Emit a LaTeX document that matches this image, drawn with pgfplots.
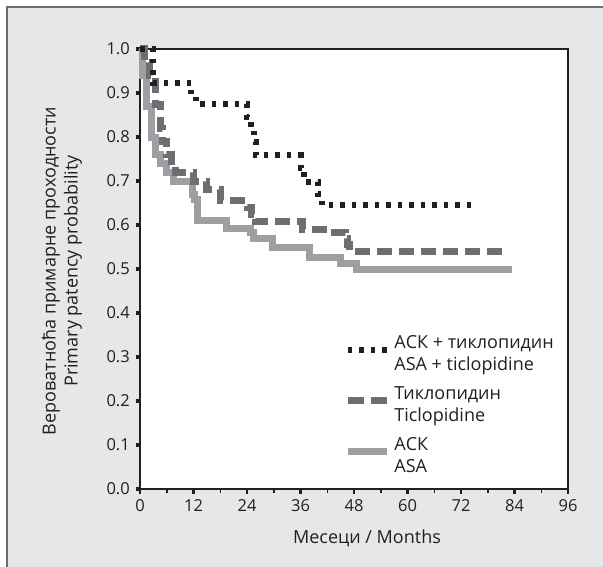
\documentclass[border=0pt]{standalone}
\usepackage{fontspec}
\setmainfont{Open Sans}
\usepackage{pgfplots}
\pgfplotsset{compat=1.18}
\definecolor{bg}{HTML}{E6E7E8}
\definecolor{frm}{HTML}{6D6E71}
\definecolor{cblack}{HTML}{231F20}
\definecolor{cdark}{HTML}{6D6E71}
\definecolor{clight}{HTML}{9D9FA2}
\newcommand{\fs}{\fontsize{16.5bp}{19bp}\selectfont}
\newcommand{\ft}{\fontsize{18bp}{22bp}\selectfont}
\begin{document}
\fs
\begin{tikzpicture}[x=1bp,y=1bp]
\useasboundingbox (0,0) rectangle (603,-567);
\fill[bg] (7,-7) rectangle (603,-567);
\draw[frm, line width=2bp] (7,-567) -- (7,-7) -- (603,-7);
\fill[white] (140,-489) rectangle (568,-49);
\begin{axis}[
  at={(140bp,-489bp)}, anchor=south west,
  scale only axis, width=428bp, height=440bp,
  xmin=0, xmax=96, ymin=0, ymax=1,
  clip=false,
  axis line style={draw=cblack, line width=1.6bp},
  xtick={0,12,...,96}, minor xtick={6,18,...,90},
  ytick={0,0.1,...,1.0},
  tick pos=left, tick align=outside,
  major tick length=4.5bp, minor tick length=4bp,
  xtick style={line width=2.5bp, draw=cblack},
  minor x tick style={line width=1.5bp},
  ytick style={line width=4.5bp, draw=cblack},
  /pgf/number format/assume math mode=true,
  yticklabel style={/pgf/number format/.cd, fixed, fixed zerofill, precision=1},
  ticklabel style={font=\fs, text=cblack},
]
\addplot[const plot, draw=clight, line width=7bp] coordinates {
(0,1.0) (0.6,0.94) (1.5,0.87) (2.5,0.80) (3.4,0.76) (4.5,0.74) (6,0.72) (7.5,0.70)
(11.7,0.67) (12.3,0.657) (12.8,0.611) (19.5,0.593) (24.7,0.582) (25.4,0.57)
(29.8,0.55) (38,0.527) (45,0.513) (48.5,0.498) (83.5,0.498)};
\addplot[const plot, draw=cdark, line width=7bp, dash pattern=on 15bp off 7bp] coordinates {
(0,1.0) (1,0.97) (2.2,0.94) (3.4,0.875) (4.5,0.82) (5,0.79) (6,0.76) (7,0.735) (8,0.72)
(12,0.70) (15,0.68) (18,0.655) (24,0.64) (25,0.625) (26,0.607) (36.5,0.59) (42,0.584)
(46,0.57) (46.5,0.555) (47,0.539) (81.5,0.539)};
\addplot[const plot, draw=cblack, line width=6bp, dash pattern=on 4.5bp off 7bp] coordinates {
(0,1.0) (3,0.923) (11.5,0.895) (12.5,0.875) (24,0.845) (24.8,0.816) (25.5,0.789)
(26,0.759) (36,0.73) (36.8,0.698) (40,0.67) (40.8,0.645) (74.5,0.645)};
\end{axis}
\begin{axis}[
  at={(140bp,-489bp)}, anchor=south west,
  scale only axis, width=428bp, height=440bp,
  xmin=0, xmax=96, ymin=0, ymax=1, hide axis,
  legend style={at={(0.477,0.349)}, anchor=north west, draw=none, fill=none,
    inner sep=0pt, row sep=4bp, font=\ft,
    /tikz/every odd column/.append style={column sep=4bp},
    nodes={inner sep=0pt, text=cblack, text height=13bp, text depth=5bp}},
  legend image code/.code={\draw[#1] (0bp,-5bp) -- (39bp,-5bp);},
  legend cell align=left,
]
\addlegendimage{draw=cblack, line width=6bp, dash pattern=on 4.5bp off 7bp}
\addlegendentry{АСК + тиклопидин}
\addlegendimage{empty legend}
\addlegendentry[text depth=12bp]{ASA + ticlopidine}
\addlegendimage{draw=cdark, line width=7bp, dash pattern=on 16bp off 7bp}
\addlegendentry{Тиклопидин}
\addlegendimage{empty legend}
\addlegendentry[text depth=12bp]{Ticlopidine}
\addlegendimage{draw=clight, line width=7bp}
\addlegendentry{АСК}
\addlegendimage{empty legend}
\addlegendentry{ASA}
\end{axis}
\node[text=cblack, font=\ft] at (367,-538) {Месеци / Months};
\node[text=cblack, rotate=90, align=center, font=\ft] at (62,-271)
  {Вероватноћа примарне проходности\\Primary patency probability};
\end{tikzpicture}
\end{document}
